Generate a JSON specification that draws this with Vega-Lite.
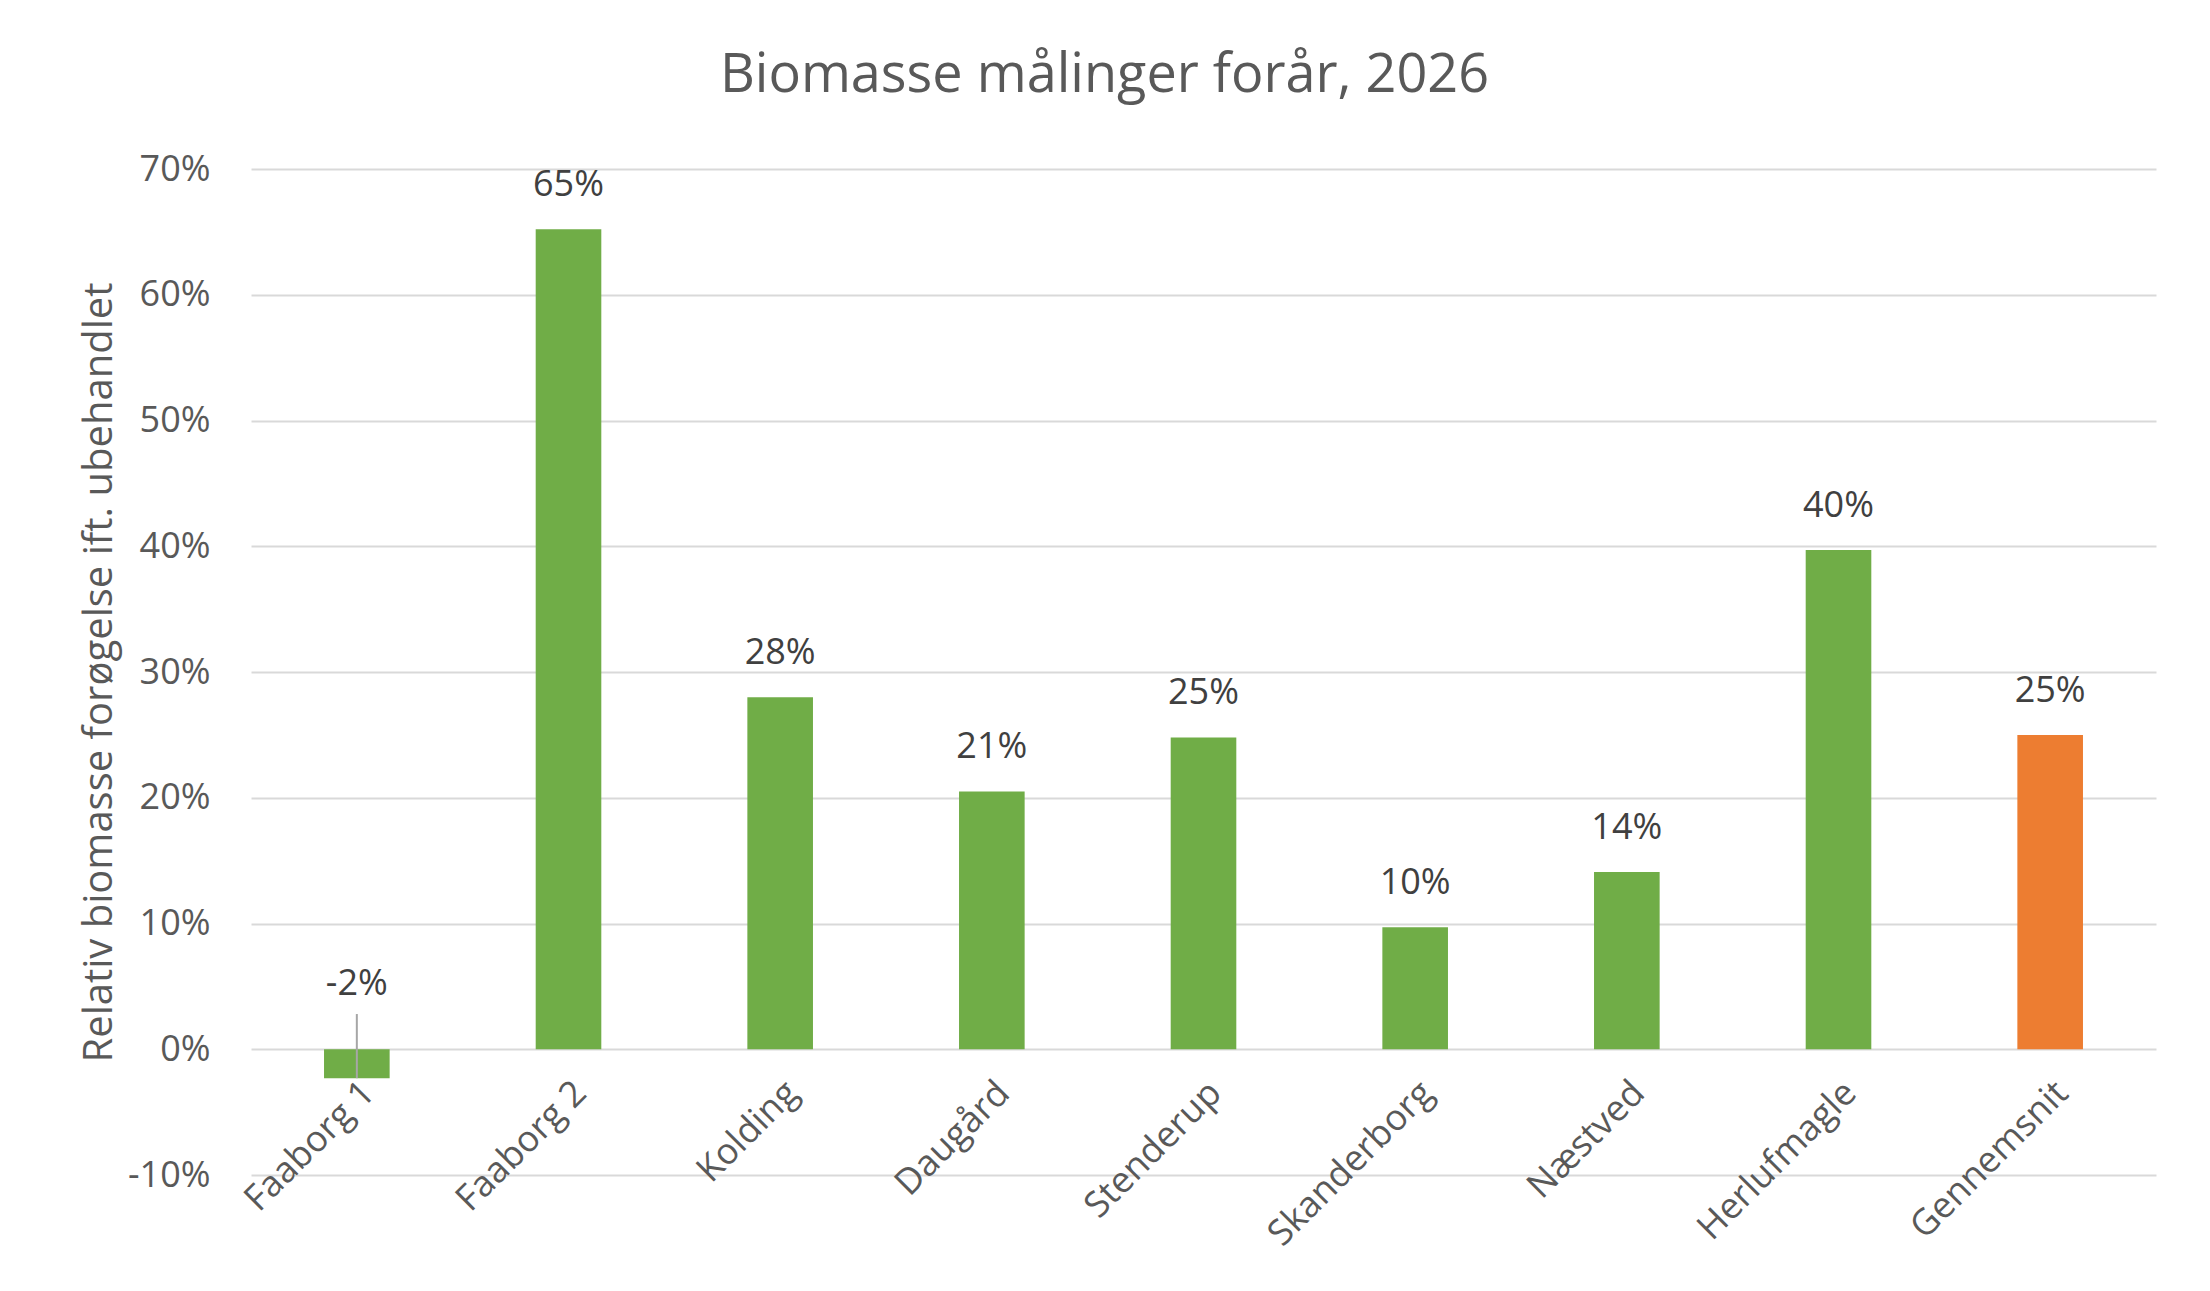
{
  "$schema": "https://vega.github.io/schema/vega-lite/v6.json",
  "autosize": "none",
  "width": 1905,
  "height": 1006,
  "padding": {"left": 251, "top": 169, "right": 54, "bottom": 116},
  "background": "white",
  "title": {
    "text": "Biomasse målinger forår, 2026",
    "frame": "group",
    "anchor": "middle",
    "dx": -99,
    "baseline": "bottom",
    "offset": -6,
    "fontSize": 54,
    "fontWeight": "normal",
    "color": "#595959"
  },
  "data": {
    "values": [
      {"site": "Faaborg 1", "value": -0.023, "label_at": 0.017, "lead_hi": 0.028, "kind": "Lokalitet"},
      {"site": "Faaborg 2", "value": 0.652, "label_at": 0.652, "lead_hi": null, "kind": "Lokalitet"},
      {"site": "Kolding", "value": 0.28, "label_at": 0.28, "lead_hi": null, "kind": "Lokalitet"},
      {"site": "Daugård", "value": 0.205, "label_at": 0.205, "lead_hi": null, "kind": "Lokalitet"},
      {"site": "Stenderup", "value": 0.248, "label_at": 0.248, "lead_hi": null, "kind": "Lokalitet"},
      {"site": "Skanderborg", "value": 0.097, "label_at": 0.097, "lead_hi": null, "kind": "Lokalitet"},
      {"site": "Næstved", "value": 0.141, "label_at": 0.141, "lead_hi": null, "kind": "Lokalitet"},
      {"site": "Herlufmagle", "value": 0.397, "label_at": 0.397, "lead_hi": null, "kind": "Lokalitet"},
      {"site": "Gennemsnit", "value": 0.25, "label_at": 0.25, "lead_hi": null, "kind": "Gennemsnit"}
    ]
  },
  "encoding": {
    "x": {
      "field": "site",
      "type": "nominal",
      "sort": null,
      "scale": {"paddingInner": 0.69, "paddingOuter": 0.345},
      "axis": {
        "title": null,
        "labelAngle": -45,
        "offset": -126,
        "domain": false,
        "ticks": false,
        "tickSize": 0,
        "grid": false,
        "labelPadding": 26,
        "labelLimit": 0,
        "labelFontSize": 36,
        "labelColor": "#595959"
      }
    }
  },
  "layer": [
    {
      "mark": {"type": "bar"},
      "encoding": {
        "y": {
          "field": "value",
          "type": "quantitative",
          "scale": {"domain": [-0.1, 0.7], "nice": false, "zero": true},
          "axis": {
            "title": "Relativ biomasse forøgelse ift. ubehandlet",
            "format": ".0%",
            "values": [-0.1, 0, 0.1, 0.2, 0.3, 0.4, 0.5, 0.6, 0.7],
            "domain": false,
            "ticks": false,
            "tickSize": 0,
            "labelPadding": 41,
            "labelFontSize": 36,
            "labelColor": "#595959",
            "titleFontSize": 40,
            "titleFontWeight": "normal",
            "titleColor": "#595959",
            "titlePadding": 8,
            "gridColor": "#d9d9d9",
            "gridWidth": 2
          }
        },
        "color": {
          "field": "kind",
          "type": "nominal",
          "scale": {"domain": ["Lokalitet", "Gennemsnit"], "range": ["#70ad47", "#ed7d31"]},
          "legend": null
        }
      }
    },
    {
      "transform": [{"filter": "datum.lead_hi != null"}],
      "mark": {"type": "rule", "color": "#a6a6a6", "strokeWidth": 2},
      "encoding": {
        "y": {"field": "lead_hi", "type": "quantitative"},
        "y2": {"field": "value"}
      }
    },
    {
      "mark": {"type": "text", "baseline": "middle", "dy": -44, "fontSize": 36, "color": "#404040"},
      "encoding": {
        "y": {"field": "label_at", "type": "quantitative"},
        "text": {"field": "value", "type": "quantitative", "format": ".0%"}
      }
    }
  ],
  "config": {
    "font": "Open Sans",
    "view": {"stroke": null},
    "locale": {
      "number": {"decimal": ".", "thousands": ",", "grouping": [3], "currency": ["$", ""], "minus": "-"}
    }
  }
}
